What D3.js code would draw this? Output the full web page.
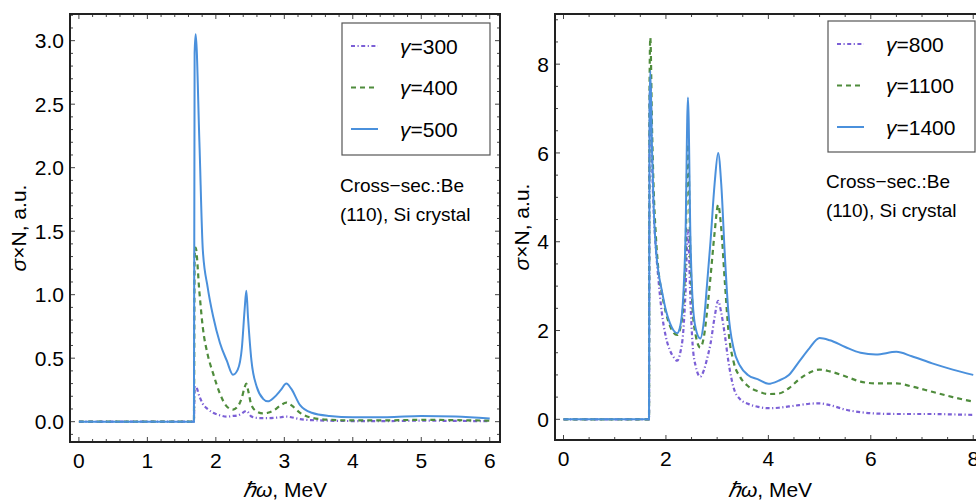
<!DOCTYPE html>
<html>
<head>
<meta charset="utf-8">
<script src="https://cdn.jsdelivr.net/npm/d3@7"></script>
<style>
  body { margin: 0; background: #fff; }
  svg { display: block; font-family: "Liberation Sans", Arial, sans-serif; }
</style>
</head>
<body>
<script>
// photon energy grid, left panel (MeV)
const leftE = [0, 1.68, 1.69, 1.705, 1.76, 1.81, 1.88, 1.96, 2.06, 2.16, 2.25, 2.32, 2.38, 2.42, 2.445, 2.47,
  2.52, 2.6, 2.69, 2.76, 2.85, 2.95, 3.03, 3.1, 3.23, 3.4, 3.66, 4.0, 4.5, 5.0, 5.5, 6.0];
const g300 = [0, 0, 0.26, 0.28, 0.2, 0.14, 0.1, 0.07, 0.05, 0.04, 0.045, 0.05, 0.065, 0.08, 0.085, 0.075,
  0.04, 0.03, 0.028, 0.028, 0.03, 0.035, 0.04, 0.035, 0.02, 0.012, 0.008, 0.005, 0.005, 0.008, 0.006, 0.004];
const g400 = [0, 0, 1.3, 1.37, 1.02, 0.74, 0.53, 0.38, 0.22, 0.12, 0.095, 0.12, 0.19, 0.27, 0.30, 0.25,
  0.13, 0.08, 0.065, 0.07, 0.09, 0.13, 0.15, 0.13, 0.07, 0.03, 0.015, 0.01, 0.01, 0.015, 0.012, 0.008];
const g500 = [0, 0, 2.9, 3.05, 2.2, 1.35, 1.06, 0.83, 0.62, 0.48, 0.37, 0.41, 0.58, 0.88, 1.03, 0.82,
  0.48, 0.27, 0.18, 0.16, 0.19, 0.25, 0.30, 0.26, 0.13, 0.07, 0.045, 0.035, 0.035, 0.045, 0.04, 0.025];

// photon energy grid, right panel (MeV)
const rightE = [0, 1.67, 1.68, 1.695, 1.73, 1.76, 1.80, 1.85, 1.92, 2.0, 2.08, 2.15, 2.22, 2.28, 2.34, 2.38,
  2.43, 2.48, 2.52, 2.58, 2.67, 2.74, 2.80, 2.87, 2.95, 3.02, 3.08, 3.15, 3.22, 3.32, 3.45, 3.6, 3.8, 4.0,
  4.2, 4.4, 4.6, 4.8, 5.0, 5.2, 5.5, 5.8, 6.1, 6.5, 6.8, 7.2, 7.6, 8.0];
const g800 = [0, 0, 6.8, 7.6, 5.8, 4.7, 3.9, 3.2, 2.4, 1.85, 1.55, 1.4, 1.32, 1.5, 2.0, 2.8,
  4.26, 2.6, 1.7, 1.2, 0.96, 1.1, 1.35, 1.7, 2.3, 2.67, 2.4, 1.9, 1.3, 0.72, 0.45, 0.35, 0.28, 0.25,
  0.26, 0.29, 0.32, 0.35, 0.36, 0.32, 0.22, 0.16, 0.13, 0.12, 0.12, 0.12, 0.11, 0.10];
const g1100 = [0, 0, 7.5, 8.6, 6.5, 5.2, 4.2, 3.4, 2.85, 2.4, 2.1, 1.95, 1.9, 2.05, 2.6, 3.6,
  6.2, 3.6, 2.5, 1.9, 1.62, 1.85, 2.4, 3.2, 4.2, 4.83, 4.3, 3.1, 2.0, 1.3, 0.95, 0.75, 0.63, 0.57,
  0.58, 0.7, 0.9, 1.05, 1.12, 1.08, 0.97, 0.85, 0.81, 0.81, 0.74, 0.62, 0.5, 0.4];
const g1400 = [0, 0, 7.0, 7.85, 6.0, 4.8, 3.9, 3.35, 2.9, 2.45, 2.16, 2.0, 1.94, 2.1, 2.8, 4.0,
  7.25, 4.0, 2.7, 2.05, 1.82, 2.2, 3.0, 4.0, 5.3, 6.0, 5.3, 3.7, 2.4, 1.6, 1.2, 1.0, 0.9, 0.8,
  0.87, 1.0, 1.3, 1.6, 1.83, 1.78, 1.63, 1.5, 1.46, 1.52, 1.42, 1.26, 1.12, 1.0];

const leftLabels = ["300", "400", "500"];
const rightLabels = ["800", "1100", "1400"];
const leftXTicks = [0, 1, 2, 3, 4, 5, 6];
const leftYTicks = [0, 0.5, 1, 1.5, 2, 2.5, 3];
const rightXTicks = [0, 2, 4, 6, 8];
const rightYTicks = [0, 2, 4, 6, 8];

const colors = ["#7b5fd6", "#4f8c3c", "#4a90dc"];
const dashes = ["4,2.5,1.2,2.5", "5,4", null];

const W = 976, H = 501;
const svg = d3.select("body").append("svg").attr("width", W).attr("height", H);

function panel(opt) {
  const x = d3.scaleLinear().domain(opt.xDom).range([opt.x0, opt.x1]);
  const y = d3.scaleLinear().domain(opt.yDom).range([opt.y1, opt.y0]);
  const g = svg.append("g");

  g.append("clipPath").attr("id", opt.id)
    .append("rect").attr("x", opt.x0).attr("y", opt.y0)
    .attr("width", opt.x1 - opt.x0).attr("height", opt.y1 - opt.y0);

  const line = d3.line()
    .x(d => x(d[0])).y(d => y(d[1]))
    .curve(d3.curveMonotoneX);

  opt.series.forEach((s, i) => {
    g.append("path")
      .datum(opt.E.map((e, k) => [e, s[k]]))
      .attr("clip-path", `url(#${opt.id})`)
      .attr("fill", "none")
      .attr("stroke", colors[i])
      .attr("stroke-width", i == 2 ? 2 : 2.2)
      .attr("stroke-dasharray", dashes[i])
      .attr("d", line);
  });

  // frame ticks, inward, on all four sides
  const tc = "#444";
  const xm = d3.range(Math.ceil(opt.xDom[0] / opt.xStep), Math.floor(opt.xDom[1] / opt.xStep) + 1).map(k => k * opt.xStep);
  const ym = d3.range(Math.ceil(opt.yDom[0] / opt.yStep), Math.floor(opt.yDom[1] / opt.yStep) + 1).map(k => k * opt.yStep);
  xm.forEach(v => {
    const major = opt.xTicks.some(t => Math.abs(t - v) < 1e-6);
    const L = major ? 5 : 3;
    g.append("line").attr("x1", x(v)).attr("x2", x(v)).attr("y1", opt.y1).attr("y2", opt.y1 - L).attr("stroke", tc);
    g.append("line").attr("x1", x(v)).attr("x2", x(v)).attr("y1", opt.y0).attr("y2", opt.y0 + L).attr("stroke", tc);
  });
  ym.forEach(v => {
    const major = opt.yTicks.some(t => Math.abs(t - v) < 1e-6);
    const L = major ? 5 : 3;
    g.append("line").attr("y1", y(v)).attr("y2", y(v)).attr("x1", opt.x0).attr("x2", opt.x0 + L).attr("stroke", tc);
    g.append("line").attr("y1", y(v)).attr("y2", y(v)).attr("x1", opt.x1).attr("x2", opt.x1 - L).attr("stroke", tc);
  });

  g.append("rect")
    .attr("x", opt.x0).attr("y", opt.y0)
    .attr("width", opt.x1 - opt.x0).attr("height", opt.y1 - opt.y0)
    .attr("fill", "none").attr("stroke", "#222").attr("stroke-width", 2);

  g.selectAll(".xt").data(opt.xTicks).join("text")
    .attr("x", d => x(d)).attr("y", opt.y1 + 26)
    .attr("text-anchor", "middle").attr("font-size", 21)
    .text(d => d3.format("d")(d));
  g.selectAll(".yt").data(opt.yTicks).join("text")
    .attr("x", opt.x0 - 6).attr("y", d => y(d)).attr("dy", "0.36em")
    .attr("text-anchor", "end").attr("font-size", 21)
    .text(d => opt.yFmt(d));

  // axis labels
  const yl = g.append("text")
    .attr("transform", `translate(${opt.yLabX},${(opt.y0 + opt.y1) / 2}) rotate(-90)`)
    .attr("text-anchor", "middle").attr("dy", "0.35em").attr("font-size", 21);
  yl.append("tspan").attr("font-style", "italic").text("σ");
  yl.append("tspan").text("×N, a.u.");
  const xl = g.append("text")
    .attr("x", (opt.x0 + opt.x1) / 2).attr("y", 497)
    .attr("text-anchor", "middle").attr("font-size", 21);
  xl.append("tspan").attr("font-style", "italic").text("ℏω");
  xl.append("tspan").text(", MeV");

  // legend
  const lg = opt.legend;
  g.append("rect").attr("x", lg.x).attr("y", lg.y).attr("width", lg.w).attr("height", lg.h)
    .attr("fill", "#fff").attr("stroke", "#555").attr("stroke-width", 1.2);
  opt.labels.forEach((lab, i) => {
    const yy = lg.y + 23 + i * 41.5;
    g.append("line").attr("x1", lg.x + 9).attr("x2", lg.x + 36).attr("y1", yy).attr("y2", yy)
      .attr("stroke", colors[i]).attr("stroke-width", 2).attr("stroke-dasharray", dashes[i]);
    const t = g.append("text").attr("x", lg.x + 58).attr("y", yy).attr("dy", "0.36em").attr("font-size", 21);
    t.append("tspan").attr("font-style", "italic").text("γ");
    t.append("tspan").text("=" + lab);
  });

  g.append("text").attr("x", opt.note[0]).attr("y", opt.note[1]).attr("font-size", 19).text("Cross−sec.:Be");
  g.append("text").attr("x", opt.note[0]).attr("y", opt.note[1] + 29).attr("font-size", 19).text("(110), Si crystal");
}

panel({
  id: "clipL", x0: 70, x1: 500, y0: 14, y1: 442,
  xDom: [-0.13, 6.15], yDom: [-0.16, 3.21],
  xStep: 0.2, yStep: 0.1, xTicks: leftXTicks, yTicks: leftYTicks,
  yFmt: d3.format(".1f"),
  E: leftE, series: [g300, g400, g500], labels: leftLabels,
  legend: {x: 342, y: 23, w: 148, h: 132},
  note: [340, 192], yLabX: 19
});

panel({
  id: "clipR", x0: 555, x1: 985, y0: 14, y1: 440,
  xDom: [-0.166, 8.23], yDom: [-0.466, 9.13],
  xStep: 0.5, yStep: 0.5, xTicks: rightXTicks, yTicks: rightYTicks,
  yFmt: d3.format("d"),
  E: rightE, series: [g800, g1100, g1400], labels: rightLabels,
  legend: {x: 828, y: 21, w: 147, h: 131},
  note: [826, 188], yLabX: 522
});
</script>
</body>
</html>
